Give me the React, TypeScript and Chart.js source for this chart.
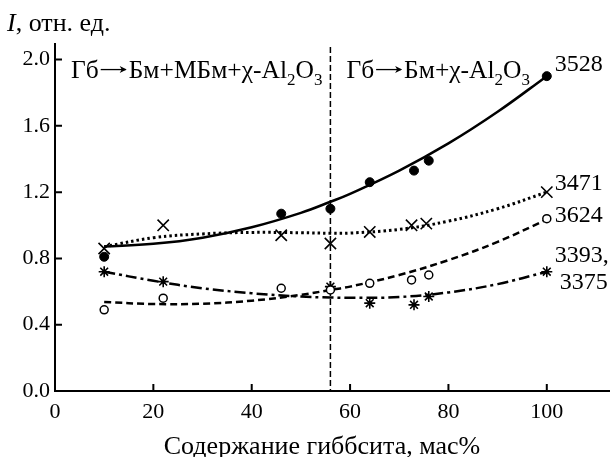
import React, { useEffect, useRef } from "react";
import { Chart, registerables } from "chart.js";

Chart.register(...registerables);

// Fitted curves
const curveX = [10, 20, 30, 40, 50, 56, 60, 70, 80, 90, 100];
const curve3528 = [0.872, 0.888, 0.925, 0.988, 1.075, 1.142, 1.19, 1.33, 1.494, 1.685, 1.9];
const curve3471 = [0.87, 0.925, 0.948, 0.957, 0.955, 0.952, 0.953, 0.975, 1.025, 1.1, 1.2];
const curve3624 = [0.537, 0.525, 0.527, 0.545, 0.58, 0.61, 0.63, 0.7, 0.79, 0.9, 1.035];
const curve3393 = [0.72, 0.665, 0.62, 0.59, 0.57, 0.564, 0.562, 0.567, 0.595, 0.645, 0.72];

// Measured points
const pts3528X = [10, 46, 56, 64, 73, 76, 100];
const pts3528Y = [0.81, 1.07, 1.1, 1.26, 1.33, 1.39, 1.9];
const pts3471X = [10, 22, 46, 56, 64, 72.5, 75.5, 100];
const pts3471Y = [0.86, 1.0, 0.94, 0.89, 0.96, 1.0, 1.01, 1.2];
const pts3624X = [10, 22, 46, 56, 64, 72.5, 76, 100];
const pts3624Y = [0.49, 0.56, 0.62, 0.61, 0.65, 0.67, 0.7, 1.04];
const pts3393X = [10, 22, 56, 64, 73, 76, 100];
const pts3393Y = [0.72, 0.66, 0.63, 0.53, 0.52, 0.57, 0.72];

const xTicks = [0, 20, 40, 60, 80, 100];
const yTicks = [0, 0.4, 0.8, 1.2, 1.6, 2.0];
const boundaryX = 56;
const xTitle = "Содержание гиббсита, мас%";

const seriesLabels = [
  { lines: ["3528"], value: 1.9, dy: -11 },
  { lines: ["3471"], value: 1.2, dy: -8 },
  { lines: ["3624"], value: 1.04, dy: -3 },
  { lines: ["3393,", "3375"], value: 0.72, dy: -16 },
];

const FONT = "'Liberation Serif', 'Times New Roman', serif";

const toXY = (xs: number[], ys: number[]) => xs.map((x, i) => ({ x, y: ys[i] }));

// parts: [text, kind] kind: 0 normal, 1 subscript, 2 arrow
function drawRich(ctx: CanvasRenderingContext2D, parts: [string, number][], x: number, y: number) {
  let cx = x;
  for (const [t, kind] of parts) {
    if (kind === 2) {
      const len = 27;
      const ay = y - 8;
      ctx.save();
      ctx.lineWidth = 1.3;
      ctx.beginPath();
      ctx.moveTo(cx + 2, ay);
      ctx.lineTo(cx + len, ay);
      ctx.stroke();
      ctx.beginPath();
      ctx.moveTo(cx + len + 1, ay);
      ctx.lineTo(cx + len - 6, ay - 3.5);
      ctx.lineTo(cx + len - 4, ay);
      ctx.lineTo(cx + len - 6, ay + 3.5);
      ctx.closePath();
      ctx.fill();
      ctx.restore();
      cx += len + 3;
      continue;
    }
    ctx.font = kind === 1 ? `17px ${FONT}` : `25.5px ${FONT}`;
    ctx.fillText(t, cx, kind === 1 ? y + 7 : y);
    cx += ctx.measureText(t).width;
  }
}

const overlay = {
  id: "overlay",
  beforeDatasetsDraw(chart: any) {
    const { ctx, chartArea, scales } = chart;
    const xs = scales.x;
    ctx.save();
    ctx.strokeStyle = "#000";
    ctx.lineWidth = 1.5;
    ctx.setLineDash([6, 3]);
    const px = xs.getPixelForValue(boundaryX);
    ctx.beginPath();
    ctx.moveTo(px, chartArea.top + 4);
    ctx.lineTo(px, chartArea.bottom);
    ctx.stroke();
    ctx.restore();
  },
  afterDraw(chart: any) {
    const { ctx, chartArea, scales } = chart;
    const xs = scales.x;
    const ys = scales.y;
    ctx.save();
    ctx.strokeStyle = "#000";
    ctx.fillStyle = "#000";
    ctx.lineWidth = 2;
    ctx.setLineDash([]);
    // axes
    ctx.beginPath();
    ctx.moveTo(chartArea.left, chartArea.top);
    ctx.lineTo(chartArea.left, chartArea.bottom);
    ctx.lineTo(chart.width, chartArea.bottom);
    ctx.stroke();
    // inward ticks
    ctx.beginPath();
    for (const v of xTicks) {
      if (v === 0) continue;
      const p = xs.getPixelForValue(v);
      ctx.moveTo(p, chartArea.bottom);
      ctx.lineTo(p, chartArea.bottom - 7);
    }
    for (const v of yTicks) {
      if (v === 0) continue;
      const p = ys.getPixelForValue(v);
      ctx.moveTo(chartArea.left, p);
      ctx.lineTo(chartArea.left + 7, p);
    }
    ctx.stroke();

    // y-axis title
    ctx.textBaseline = "alphabetic";
    ctx.textAlign = "left";
    ctx.font = `italic 26px ${FONT}`;
    ctx.fillText("I", 7, 31);
    const iw = ctx.measureText("I").width;
    ctx.font = `26px ${FONT}`;
    ctx.fillText(", отн. ед.", 7 + iw, 31);

    // x-axis title
    ctx.textAlign = "center";
    ctx.textBaseline = "middle";
    ctx.font = `26px ${FONT}`;
    ctx.fillText(xTitle, 322, 447);
    ctx.textAlign = "left";
    ctx.textBaseline = "alphabetic";

    // region annotations
    const ty = ys.getPixelForValue(2.0) + 18;
    drawRich(ctx, [["Гб", 0], ["", 2], ["Бм+МБм+χ-Al", 0], ["2", 1], ["O", 0], ["3", 1]], chartArea.left + 16, ty);
    drawRich(ctx, [["Гб", 0], ["", 2], ["Бм+χ-Al", 0], ["2", 1], ["O", 0], ["3", 1]], xs.getPixelForValue(boundaryX) + 16, ty);

    // series labels
    ctx.font = `24px ${FONT}`;
    ctx.textBaseline = "middle";
    const lx = xs.getPixelForValue(100) + 8;
    for (const s of seriesLabels) {
      const py = ys.getPixelForValue(s.value) + s.dy;
      s.lines.forEach((t, i) => {
        ctx.fillText(t, lx + (i > 0 ? 5 : 0), py + i * 27);
      });
    }
    ctx.restore();
  },
};

export default function App() {
  const ref = useRef<HTMLCanvasElement>(null);
  useEffect(() => {
    document.body.style.margin = "0";
    const lineDs = (data: number[], dash: number[], width: number) => ({
      type: "line" as const,
      data: toXY(curveX, data),
      borderColor: "#000",
      borderWidth: width,
      borderDash: dash,
      pointRadius: 0,
      tension: 0.4,
      fill: false,
      order: 2,
    });
    const ptDs = (xs: number[], ys: number[], style: string, radius: number, bg: string, bw: number) => ({
      type: "scatter" as const,
      data: toXY(xs, ys),
      pointStyle: style,
      pointRadius: radius,
      pointBackgroundColor: bg,
      pointBorderColor: "#000",
      pointBorderWidth: bw,
      showLine: false,
      order: 1,
    });
    const chart = new Chart(ref.current!, {
      type: "scatter",
      data: {
        datasets: [
          lineDs(curve3528, [], 2.5),
          lineDs(curve3471, [2.5, 3], 3),
          lineDs(curve3624, [7, 4], 2.5),
          lineDs(curve3393, [11, 4, 3, 4], 2.5),
          ptDs(pts3528X, pts3528Y, "circle", 4.5, "#000", 1),
          ptDs(pts3471X, pts3471Y, "crossRot", 8, "#000", 1.6),
          ptDs(pts3624X, pts3624Y, "circle", 4, "#fff", 1.5),
          ptDs(pts3393X, pts3393Y, "star", 5.5, "#000", 1.6),
        ] as any,
      },
      options: {
        animation: false,
        responsive: true,
        maintainAspectRatio: false,
        layout: { padding: { top: 43, left: 0, right: 0, bottom: 0 } },
        plugins: { legend: { display: false }, tooltip: { enabled: false } },
        scales: {
          x: {
            type: "linear",
            min: 0,
            max: 110.9,
            afterBuildTicks: (s: any) => {
              s.ticks = xTicks.map((v) => ({ value: v }));
            },
            afterFit: (s: any) => {
              s.height = 66;
              s.paddingLeft = 0;
              s.paddingRight = 0;
            },
            grid: { display: false, drawTicks: false },
            border: { display: false },
            ticks: {
              color: "#000",
              font: { family: FONT, size: 22 },
              padding: 8,
              maxRotation: 0,
              callback: (v: any) => String(v),
            },
          },
          y: {
            type: "linear",
            min: 0,
            max: 2.1,
            afterBuildTicks: (s: any) => {
              s.ticks = yTicks.map((v) => ({ value: v }));
            },
            afterFit: (s: any) => {
              s.width = 55;
              s.paddingTop = 0;
              s.paddingBottom = 0;
            },
            grid: { display: false, drawTicks: false },
            border: { display: false },
            ticks: {
              color: "#000",
              font: { family: FONT, size: 22 },
              padding: 5,
              callback: (v: any) => Number(v).toFixed(1),
            },
          },
        },
      },
      plugins: [overlay],
    });
    return () => chart.destroy();
  }, []);
  return (
    <div style={{ position: "fixed", left: 0, top: 0, width: 610, height: 457 }}>
      <canvas ref={ref} />
    </div>
  );
}
